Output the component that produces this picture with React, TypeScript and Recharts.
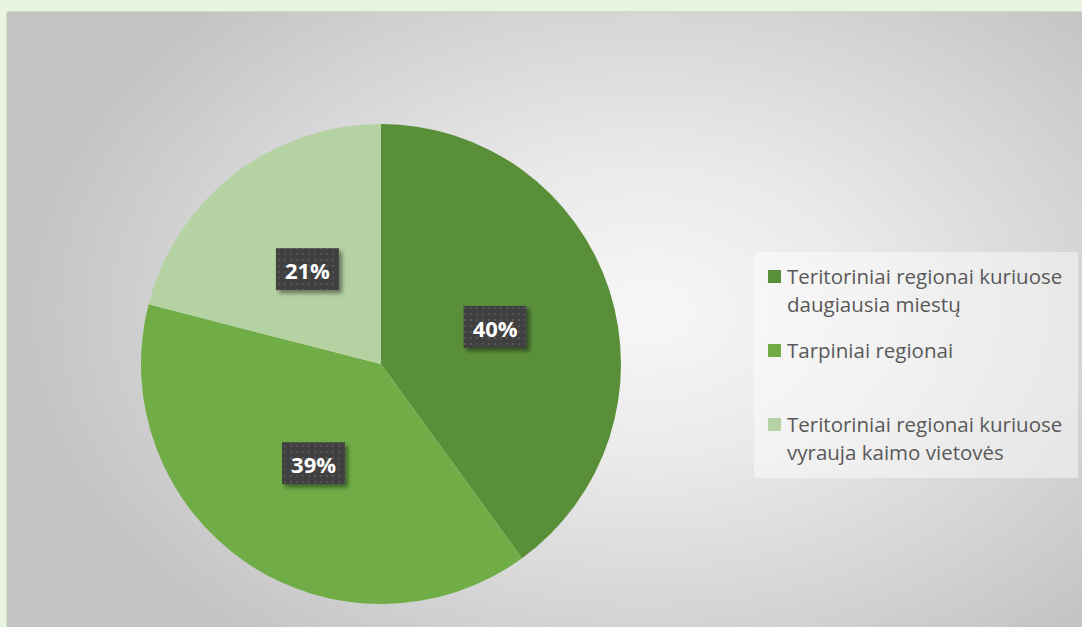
import { PieChart, Pie, Cell } from 'recharts'

const categories = [
  'Teritoriniai regionai kuriuose daugiausia miestų',
  'Tarpiniai regionai',
  'Teritoriniai regionai kuriuose vyrauja kaimo vietovės',
]
const shares = [40, 39, 21]
const colors = ['#5A8F3A', '#70AD47', '#B4D2A2']
const legendLines = [
  ['Teritoriniai regionai kuriuose', 'daugiausia miestų'],
  ['Tarpiniai regionai'],
  ['Teritoriniai regionai kuriuose', 'vyrauja kaimo vietovės'],
]

const data = categories.map((name, i) => ({ name, value: shares[i] }))

const RADIAN = Math.PI / 180

const renderLabel = (props: any) => {
  const { cx, cy, midAngle, outerRadius, value, index } = props
  const r = outerRadius * 0.5
  const x = cx + r * Math.cos(-midAngle * RADIAN)
  const y = cy + r * Math.sin(-midAngle * RADIAN)
  const w = 63
  const h = 42
  const pid = `dots-${index}`
  return (
    <g>
      <defs>
        <pattern id={pid} width="6" height="6" patternUnits="userSpaceOnUse">
          <rect width="6" height="6" fill="#404040" />
          <rect x="1" y="1" width="2" height="2" fill="#555555" />
        </pattern>
        <filter id={`sh-${index}`} x="-30%" y="-30%" width="160%" height="160%">
          <feDropShadow dx="3" dy="3" stdDeviation="2" floodColor="#000" floodOpacity="0.45" />
        </filter>
      </defs>
      <rect x={x - w / 2} y={y - h / 2} width={w} height={h} fill={`url(#${pid})`} filter={`url(#sh-${index})`} />
      <text x={x} y={y + 1} fill="#fff" textAnchor="middle" dominantBaseline="central"
        fontFamily="'Open Sans', sans-serif" fontWeight="bold" fontSize={22}>
        {`${value}%`}
      </text>
    </g>
  )
}

export default function App() {
  return (
    <div style={{ position: 'absolute', left: 0, top: 0, width: 1082, height: 627, background: '#E9F5E1', overflow: 'hidden' }}>
      <div style={{
        position: 'absolute', left: 7, top: 12, width: 1075, height: 615,
        background: 'radial-gradient(ellipse 620px 420px at 640px 300px, #F7F7F7 0%, #EAEAEA 35%, #D6D6D6 70%, #C4C4C4 100%)',
        boxShadow: '0 0 2px rgba(0,0,0,0.3)',
      }}>
        <PieChart width={1075} height={615} margin={{ top: 0, right: 0, bottom: 0, left: 0 }}>
          <Pie
            data={data}
            dataKey="value"
            nameKey="name"
            cx={374}
            cy={352}
            outerRadius={240}
            startAngle={90}
            endAngle={-270}
            stroke="none"
            label={renderLabel}
            labelLine={false}
            isAnimationActive={false}
          >
            {data.map((d, i) => <Cell key={d.name} fill={colors[i]} />)}
          </Pie>
        </PieChart>
        <div style={{ position: 'absolute', left: 747, top: 240, width: 324, height: 226, background: 'rgba(255,255,255,0.45)', boxSizing: 'border-box', paddingLeft: 14, paddingTop: 10 }}>
          {legendLines.map((lines, i) => (
            <div key={i} style={{ height: 74, display: 'flex', alignItems: 'flex-start' }}>
              <div style={{ width: 13, height: 13, background: colors[i], marginTop: 8, marginRight: 6, flexShrink: 0 }} />
              <div style={{ fontFamily: "'Open Sans', sans-serif", fontSize: 20.5, lineHeight: '28px', color: '#595959', whiteSpace: 'nowrap' }}>
                {lines.map((l, j) => <div key={j}>{l}</div>)}
              </div>
            </div>
          ))}
        </div>
      </div>
    </div>
  )
}
